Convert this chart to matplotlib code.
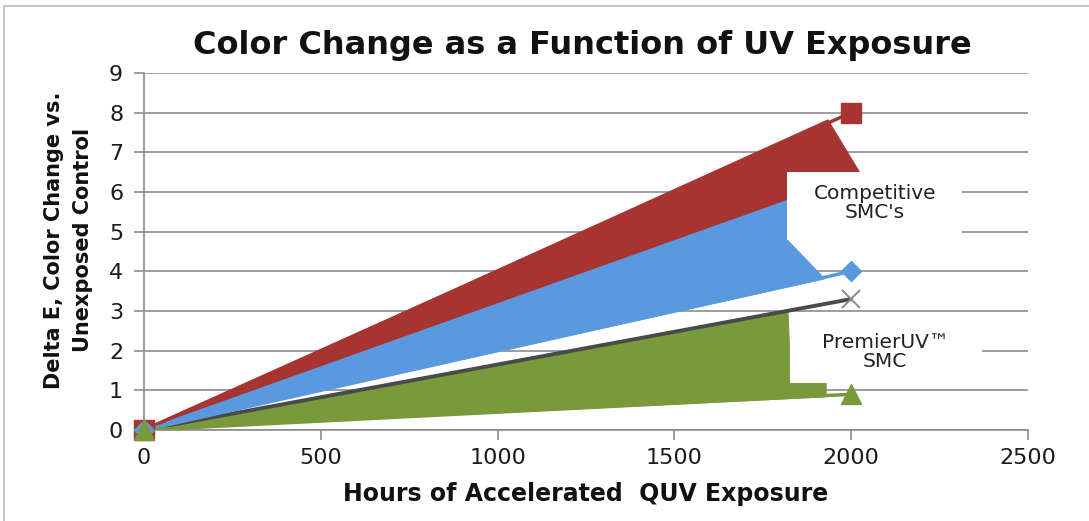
import matplotlib
matplotlib.use("Agg")
import matplotlib.pyplot as plt
from matplotlib.patches import Polygon, Rectangle
from matplotlib.lines import Line2D

plt.rcParams['font.family'] = ['DejaVu Sans']

# ---- data ----
hours = [0, 2000]
competitive_high = [0, 8.0]     # red squares
competitive_low = [0, 4.0]      # blue diamonds
premier_high = [0, 3.3]         # gray x
premier_low = [0, 0.9]          # green triangles

x_ticks = [0, 500, 1000, 1500, 2000, 2500]
y_ticks = [0, 1, 2, 3, 4, 5, 6, 7, 8, 9]

title = "Color Change as a Function of UV Exposure"
xlabel = "Hours of Accelerated  QUV Exposure"
ylabel = "Delta E, Color Change vs.\nUnexposed Control"
label_comp = "Competitive\nSMC's"
label_prem = "PremierUV\u2122\nSMC"

RED = "#A63431"
BLUE = "#5B99DF"
GREEN = "#789A3B"
DGRAY = "#4A4A4A"
LGRAY = "#8A8A8A"

fig = plt.figure(figsize=(10.89, 5.21), dpi=100)
ax = fig.add_axes([0.1322, 0.1747, 0.944 - 0.1322, 0.860 - 0.1747])
ax.set_xlim(0, 2500)
ax.set_ylim(0, 9)

ax.set_yticks(y_ticks)
ax.set_xticks(x_ticks)
ax.yaxis.grid(True, color="#8C8C8C", linewidth=1.2, zorder=0)
ax.set_axisbelow(True)
for s in ['top', 'right']:
    ax.spines[s].set_visible(False)
for s in ['left', 'bottom']:
    ax.spines[s].set_color("#8C8C8C")
    ax.spines[s].set_linewidth(1.2)
ax.tick_params(axis='both', direction='out', length=7, color="#8C8C8C",
               labelsize=16, labelcolor="#1A1A1A", width=1.2)
ax.tick_params(axis='y', pad=8)
ax.tick_params(axis='x', pad=6)

# ---- callout shapes (bands between series lines, cut by the label boxes) ----
def on(series, x):
    return series[1] * x / hours[1]

upper_blue = [0, 6.36]
red_band = [(0, 0), (1934, on(competitive_high, 1934) + 0.08), (2030, 6.4),
            (1818, on(upper_blue, 1818))]
blue_band = [(0, 0), (1818, on(upper_blue, 1818)), (1818, 4.8),
             (1925, on(competitive_low, 1925) - 0.04)]
green_band = [(0, 0), (1821, on(premier_high, 1821) - 0.03), (1830, 1.18),
              (1929, 1.18), (1929, on(premier_low, 1929) - 0.03)]
for pts, c in [(red_band, RED), (blue_band, BLUE), (green_band, GREEN)]:
    ax.add_patch(Polygon(pts, closed=True, facecolor=c, edgecolor=c,
                         linewidth=0.8, zorder=2))

# ---- series lines ----
ax.plot(hours, premier_high, color=DGRAY, linewidth=2.8, zorder=3,
        solid_capstyle='butt')
ax.plot(hours, competitive_high, color=RED, linewidth=2.5, zorder=3)
ax.plot(hours, competitive_low, color=BLUE, linewidth=2.5, zorder=3)
ax.plot(hours, premier_low, color=GREEN, linewidth=2.5, zorder=3)

# ---- label boxes ----
ax.add_patch(Rectangle((1818, 4.8), 2313 - 1818, 6.5 - 4.8, facecolor='white',
                       edgecolor='none', zorder=4))
ax.add_patch(Rectangle((1827, 1.18), 2370 - 1827, 2.92 - 1.18, facecolor='white',
                       edgecolor='none', zorder=4))
ax.text(2067, 5.72, label_comp, ha='center', va='center', fontsize=14.5,
        color="#222222", zorder=5, linespacing=1.0)
ax.text(2096, 1.96, label_prem, ha='center', va='center', fontsize=14.5,
        color="#222222", zorder=5, linespacing=1.0)

# ---- markers ----
ax.plot(hours, premier_high, linestyle='none', marker='x', ms=13, mew=1.4,
        color=LGRAY, zorder=6, clip_on=False)
ax.plot(hours, competitive_high, linestyle='none', marker='s', ms=15,
        color=RED, zorder=6, clip_on=False)
ax.plot(hours, competitive_low, linestyle='none', marker='D', ms=10.5,
        color=BLUE, zorder=6, clip_on=False)
ax.plot(hours, premier_low, linestyle='none', marker='^', ms=14,
        color=GREEN, zorder=7, clip_on=False)

# ---- texts ----
fig.text(0.535, 0.913, title, ha='center', va='center', fontsize=23,
         fontweight='bold', color="#111111")
ax.set_xlabel(xlabel, fontsize=17, fontweight='bold', color="#111111",
              labelpad=10)
ax.set_ylabel(ylabel, fontsize=15, fontweight='bold', color="#111111",
              linespacing=1.55)
ax.yaxis.set_label_coords(-0.058, 0.532)

# ---- outer frame ----
fig.add_artist(Line2D([0.004, 1.0], [0.988, 0.988], color="#BBBBBB",
                      linewidth=1.2, transform=fig.transFigure))
fig.add_artist(Line2D([0.004, 0.004], [0.0, 0.988], color="#BBBBBB",
                      linewidth=1.2, transform=fig.transFigure))

fig.savefig("out.png", dpi=100)
